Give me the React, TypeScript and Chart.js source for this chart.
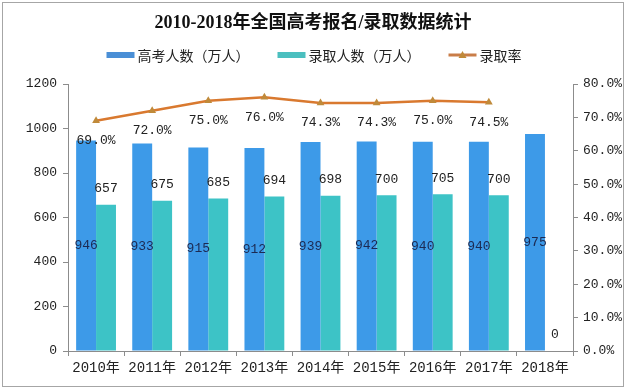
import React, { useEffect, useRef } from 'react';
import { Chart, registerables } from 'chart.js';

Chart.register(...registerables);

const chartTitle = '2010-2018年全国高考报名/录取数据统计';
const categories = ['2010年', '2011年', '2012年', '2013年', '2014年', '2015年', '2016年', '2017年', '2018年'];
const applicants = [946, 933, 915, 912, 939, 942, 940, 940, 975];
const admitted = [657, 675, 685, 694, 698, 700, 705, 700, 0];
const admissionRate: (number | null)[] = [69.0, 72.0, 75.0, 76.0, 74.3, 74.3, 75.0, 74.5, null];
const seriesNames = ['高考人数（万人）', '录取人数（万人）', '录取率'];

const BLUE = '#3d9ae8';
const TEAL = '#3dc3c6';
const LINE = '#d9792f';
const MARK = '#c08a3a';
const MONO = '"Liberation Mono", "Noto Sans CJK SC", monospace';
const CJK = '"Noto Sans CJK SC", sans-serif';

const decorPlugin = {
  id: 'decor',
  beforeDraw(chart: any) {
    const { ctx, width, height } = chart;
    ctx.save();
    ctx.fillStyle = '#ffffff';
    ctx.fillRect(0, 0, width, height);
    ctx.strokeStyle = '#a6a6a6';
    ctx.lineWidth = 1;
    ctx.strokeRect(2.5, 2.5, width - 5, height - 5);
    ctx.restore();
  },
  afterDraw(chart: any) {
    const { ctx } = chart;
    ctx.save();
    // title
    ctx.fillStyle = '#111';
    ctx.textAlign = 'center';
    ctx.textBaseline = 'middle';
    ctx.font = 'bold 18px "Liberation Serif", "Noto Sans CJK SC", serif';
    ctx.fillText(chartTitle, 313, 23);

    // legend
    ctx.font = '14px ' + CJK;
    const boxW = 28;
    const gapText = 3;
    const gapItem = 28;
    const widths = seriesNames.map((t) => boxW + gapText + ctx.measureText(t).width);
    const total = widths.reduce((a, b) => a + b, 0) + gapItem * (seriesNames.length - 1);
    let x = 314 - total / 2;
    const y = 55;
    ctx.textAlign = 'left';
    seriesNames.forEach((t, i) => {
      if (i === 0 || i === 1) {
        ctx.fillStyle = i === 0 ? '#4a8fd6' : '#4bbfbf';
        ctx.fillRect(x, y - 3, boxW, 6);
      } else {
        ctx.strokeStyle = '#c97d48';
        ctx.lineWidth = 3;
        ctx.beginPath();
        ctx.moveTo(x, y);
        ctx.lineTo(x + boxW, y);
        ctx.stroke();
        ctx.fillStyle = MARK;
        ctx.beginPath();
        const cx = x + boxW / 2;
        ctx.moveTo(cx, y - 4);
        ctx.lineTo(cx + 4, y + 3);
        ctx.lineTo(cx - 4, y + 3);
        ctx.closePath();
        ctx.fill();
      }
      ctx.fillStyle = '#222';
      ctx.fillText(t, x + boxW + gapText, y + 1);
      x += widths[i] + gapItem;
    });

    // data labels
    ctx.font = '13px ' + MONO;
    ctx.textAlign = 'center';
    ctx.textBaseline = 'middle';
    const m0 = chart.getDatasetMeta(0);
    m0.data.forEach((el: any, i: number) => {
      const p = el.getProps(['x', 'y', 'base'], true);
      ctx.fillStyle = '#1c2a52';
      ctx.fillText(String(applicants[i]), p.x, (p.y + p.base) / 2);
    });
    const m1 = chart.getDatasetMeta(1);
    m1.data.forEach((el: any, i: number) => {
      const p = el.getProps(['x', 'y'], true);
      ctx.fillStyle = '#222';
      ctx.fillText(String(admitted[i]), p.x, p.y - 16);
    });
    const m2 = chart.getDatasetMeta(2);
    m2.data.forEach((el: any, i: number) => {
      const v = admissionRate[i];
      if (v === null || v === undefined) return;
      const p = el.getProps(['x', 'y'], true);
      ctx.fillStyle = '#222';
      ctx.fillText(v.toFixed(1) + '%', p.x, p.y + 20);
    });
    ctx.restore();
  },
};

export default function App() {
  const ref = useRef<HTMLCanvasElement | null>(null);

  useEffect(() => {
    if (!ref.current) return;
    const tickFont = { family: MONO, size: 13 };
    const chart = new Chart(ref.current, {
      type: 'bar',
      data: {
        labels: categories,
        datasets: [
          {
            type: 'bar',
            label: seriesNames[0],
            data: applicants,
            backgroundColor: BLUE,
            borderWidth: 0,
            yAxisID: 'y',
            categoryPercentage: 0.71,
            barPercentage: 1.0,
          },
          {
            type: 'bar',
            label: seriesNames[1],
            data: admitted,
            backgroundColor: TEAL,
            borderWidth: 0,
            yAxisID: 'y',
            categoryPercentage: 0.71,
            barPercentage: 1.0,
          },
          {
            type: 'line',
            label: seriesNames[2],
            data: admissionRate,
            borderColor: LINE,
            borderWidth: 2.5,
            backgroundColor: MARK,
            pointStyle: 'triangle',
            pointRadius: 4.5,
            pointBackgroundColor: MARK,
            pointBorderColor: MARK,
            pointBorderWidth: 0,
            tension: 0,
            spanGaps: false,
            yAxisID: 'y1',
            order: -1,
          } as any,
        ],
      },
      options: {
        responsive: false,
        animation: false,
        devicePixelRatio: 1,
        layout: { padding: { top: 84, left: 0, right: 0, bottom: 0 } },
        plugins: {
          legend: { display: false },
          title: { display: false },
          tooltip: { enabled: false },
        },
        scales: {
          x: {
            offset: true,
            grid: {
              offset: true,
              drawOnChartArea: false,
              drawTicks: true,
              tickLength: 5,
              color: '#8c8c8c',
            },
            border: { display: true, color: '#8c8c8c', width: 1 },
            ticks: { font: { family: MONO, size: 14 }, color: '#222', padding: 4, maxRotation: 0, autoSkip: false },
            afterFit: (s: any) => {
              s.height = 38;
            },
          },
          y: {
            position: 'left',
            min: 0,
            max: 1200,
            ticks: {
              stepSize: 200,
              font: tickFont,
              color: '#222',
              padding: 6,
              callback: (v: any) => String(v),
            },
            grid: { drawOnChartArea: false, drawTicks: true, tickLength: 5, color: '#8c8c8c' },
            border: { display: true, color: '#8c8c8c', width: 1 },
            afterFit: (s: any) => {
              s.width = 68;
            },
          },
          y1: {
            position: 'right',
            min: 0,
            max: 80,
            ticks: {
              stepSize: 10,
              font: tickFont,
              color: '#222',
              padding: 5,
              callback: (v: any) => Number(v).toFixed(1) + '%',
            },
            grid: { drawOnChartArea: false, drawTicks: true, tickLength: 5, color: '#8c8c8c' },
            border: { display: true, color: '#8c8c8c', width: 1 },
            afterFit: (s: any) => {
              s.width = 53;
            },
          },
        },
      } as any,
      plugins: [decorPlugin],
    });
    return () => chart.destroy();
  }, []);

  return (
    <div style={{ position: 'fixed', left: 0, top: 0, width: 626, height: 389, background: '#fff' }}>
      <canvas ref={ref} width={626} height={389} style={{ width: 626, height: 389, display: 'block' }} />
    </div>
  );
}
